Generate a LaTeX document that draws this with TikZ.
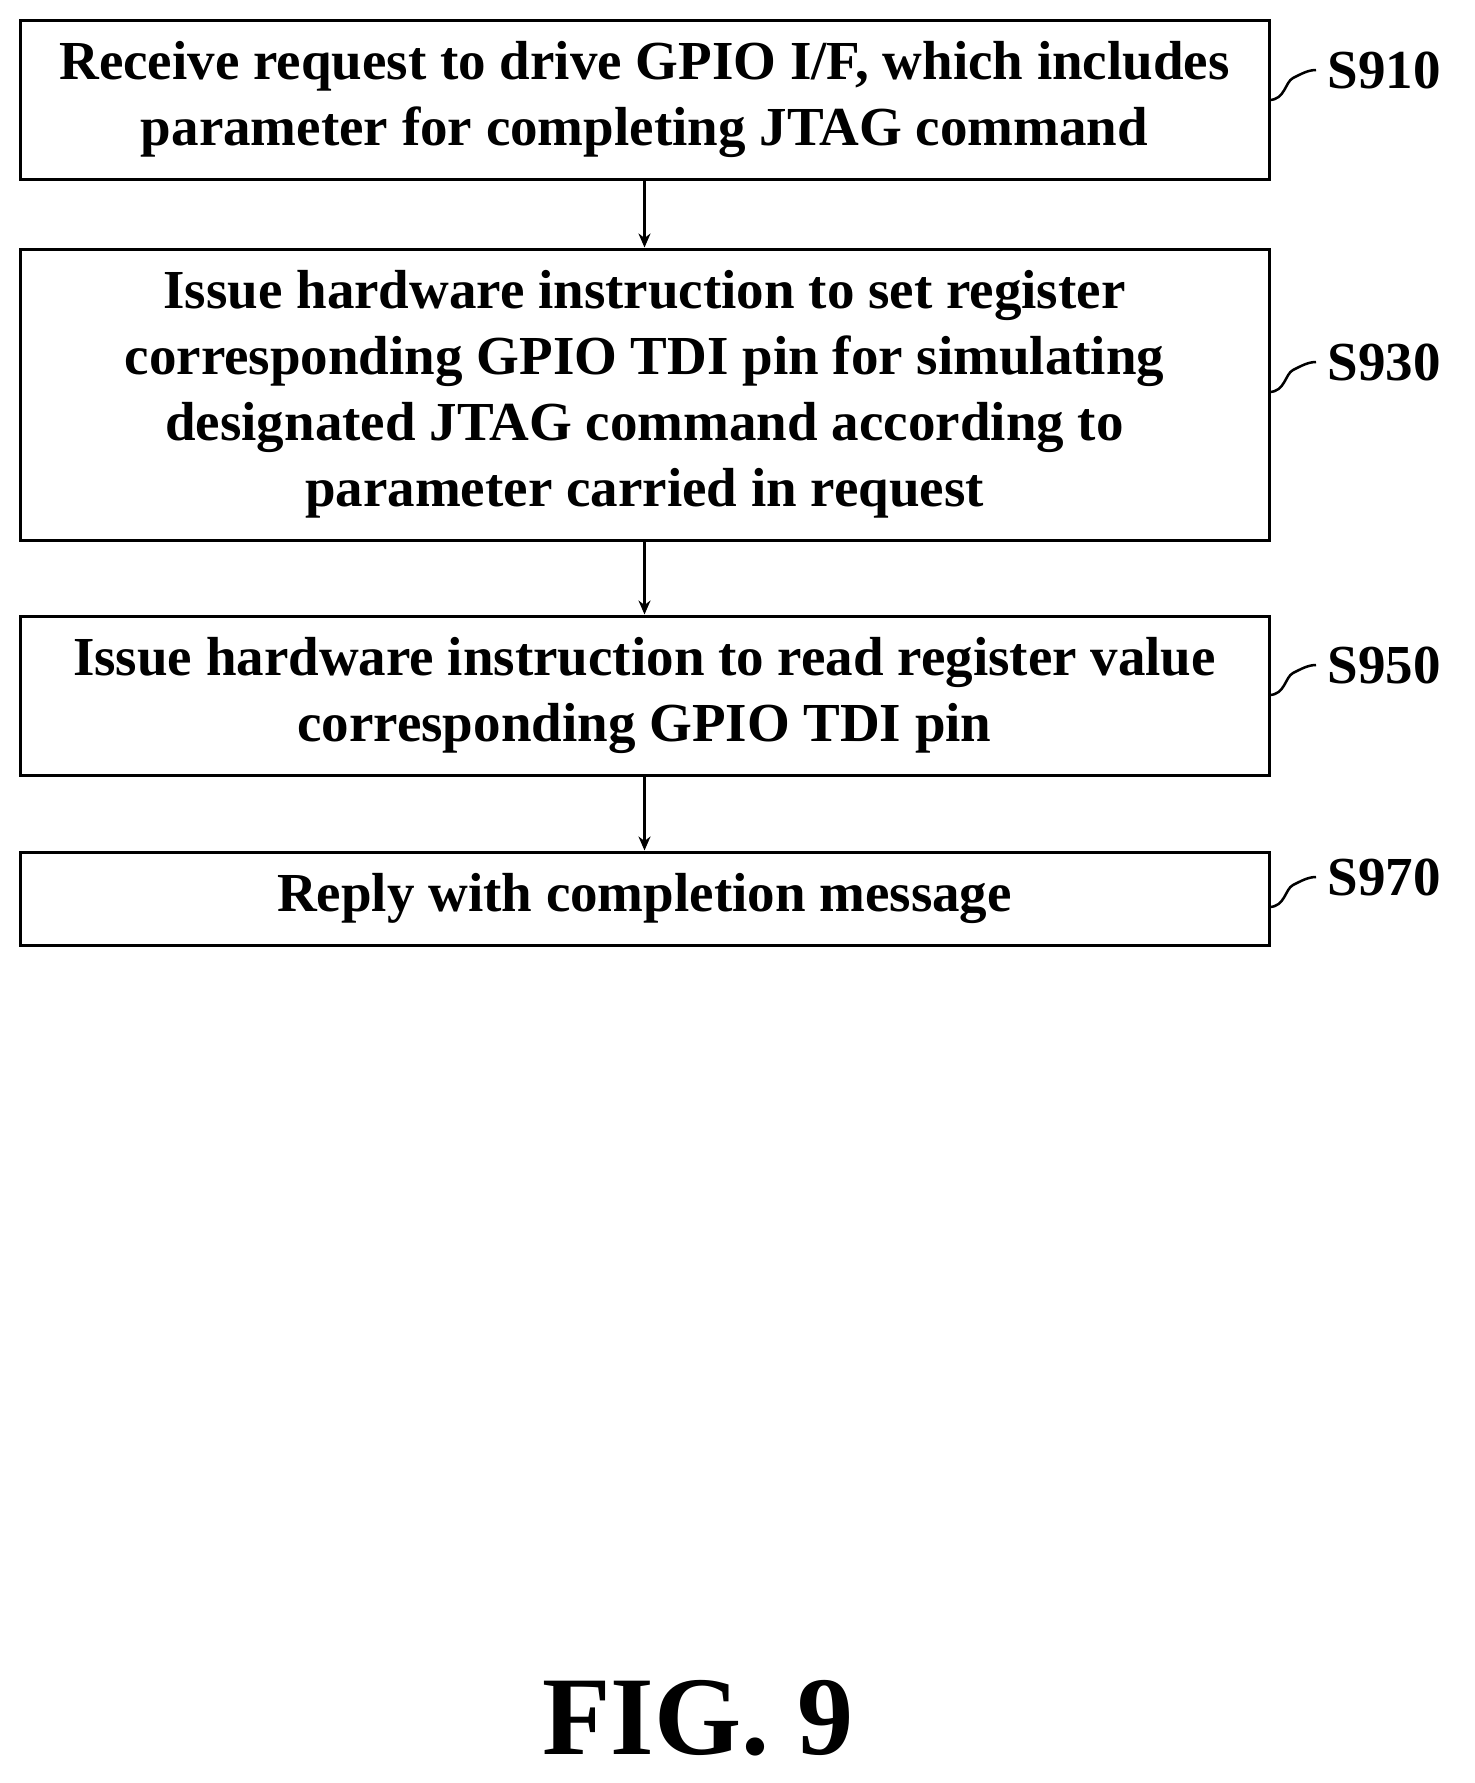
\documentclass[tikz,border=0pt]{standalone}
\usepackage{fontspec}
\setmainfont{Liberation Serif}
\usetikzlibrary{positioning, arrows.meta}
\begin{document}
\begin{tikzpicture}[
    x=1pt, y=-1pt,
    >=stealth,
    % Styles
    stepbox/.style={rectangle, draw, line width=3pt, minimum width=1249pt, align=center,
      font=\fontsize{55}{66}\selectfont\bfseries, inner sep=0pt},
    steplabel/.style={font=\fontsize{55}{60}\selectfont\bfseries, anchor=west},
    arrow/.style={line width=3pt, -{Stealth[length=14pt,width=12pt]}}
  ]
  \useasboundingbox (0,0) rectangle (1475,1783);

  % --- STEPS ---
  \node (s910) [stepbox, minimum height=159pt] at (644.5,99.5) {Receive request to drive GPIO I/F, which includes\\parameter for completing JTAG command};
  \node (s930) [stepbox, minimum height=291pt] at (644.5,394.5) {Issue hardware instruction to set register\\corresponding GPIO TDI pin for simulating\\designated JTAG command according to\\parameter carried in request};
  \node (s950) [stepbox, minimum height=159pt] at (644.5,695.5) {Issue hardware instruction to read register value\\corresponding GPIO TDI pin};
  \node (s970) [stepbox, minimum height=93pt] at (644.5,898.5) {Reply with completion message};

  % --- FLOW ---
  \draw [arrow] (s910) -- (s930);
  \draw [arrow] (s930) -- (s950);
  \draw [arrow] (s950) -- (s970);

  % --- LABELS ---
  \foreach \s/\y in {910/70, 930/362, 950/665, 970/877} {
    \coordinate (lbl\s) at (1316,\y);
    \draw [line width=2.5pt] ([shift={(-47,30)}]lbl\s) .. controls ([shift={(-31,30)}]lbl\s) and ([shift={(-31,12)}]lbl\s)
      .. ([shift={(-23,8)}]lbl\s) .. controls ([shift={(-15,4)}]lbl\s) and ([shift={(-8,0)}]lbl\s) .. (lbl\s);
    \node [steplabel] at ([xshift=8pt]lbl\s) {S\s};
  }

  \node (fig) [font=\fontsize{112}{114}\selectfont\bfseries] at (698,1718) {FIG. 9};
\end{tikzpicture}
\end{document}
